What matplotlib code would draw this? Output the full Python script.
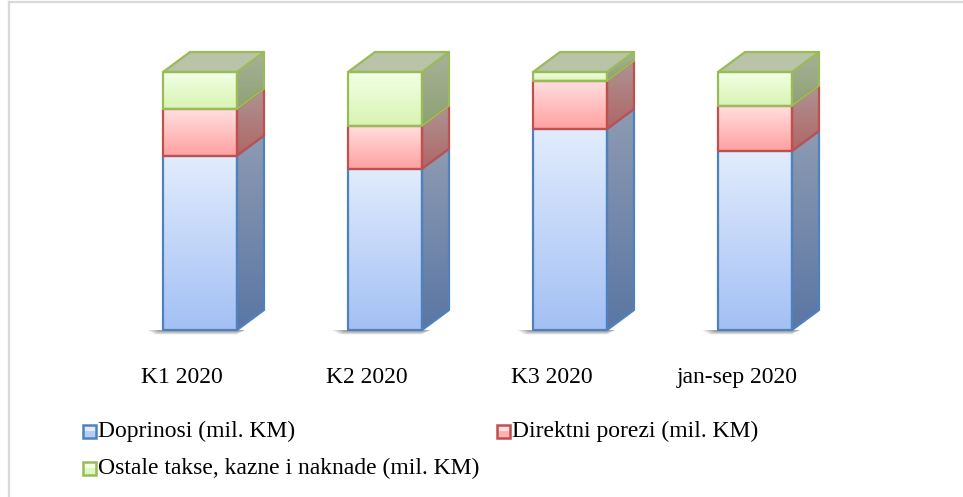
import numpy as np
import matplotlib
matplotlib.use("Agg")
import matplotlib.pyplot as plt
from matplotlib.patches import Polygon, Rectangle
from matplotlib.colors import LinearSegmentedColormap

# ---- data (shares, %) ----
categories = ["K1 2020", "K2 2020", "K3 2020", "jan-sep 2020"]
doprinosi = [67.6, 62.5, 77.9, 69.4]
direktni = [18.2, 16.7, 18.7, 17.6]
ostale = [14.2, 20.8, 3.4, 13.0]
series_names = ["Doprinosi (mil. KM)", "Direktni porezi (mil. KM)",
                "Ostale takse, kazne i naknade (mil. KM)"]

W, H = 963, 497
fig = plt.figure(figsize=(W / 100, H / 100), dpi=100)
plt.rcParams['font.family'] = ['Liberation Serif', 'DejaVu Serif']

# axes covering whole figure; 0% at pixel row 330, 100% at pixel row 72
y0p, y100p = 330, 72
ppu_y = (y0p - y100p) / 100.0
ymin = -(H - y0p) / ppu_y
ymax = y0p / ppu_y
x_left_px, spacing_px = 107.5, 185.0
xmin = -0.5 - x_left_px / spacing_px
xmax = xmin + W / spacing_px
ax = fig.add_axes([0, 0, 1, 1])
ax.set_xlim(xmin, xmax)
ax.set_ylim(ymin, ymax)
ax.axis('off')

def px2dx(p):
    return p * (xmax - xmin) / W
def px2dy(p):
    return p * (ymax - ymin) / H

half_w = px2dx(37)
ddx = px2dx(27)
ddy = px2dy(20)

styles = [
    dict(ft="#e2ecfd", fb="#a3c0f4", st="#8e9bb2", sb="#5a76a4", ec="#4f81bd"),
    dict(ft="#ffe0e0", fb="#ffa0a0", st="#ae9494", sb="#b06666", ec="#c0504d"),
    dict(ft="#f2ffe6", fb="#d8f4b2", st="#a7b198", sb="#8ea274", ec="#9bbb59"),
]
top_face = "#b8c3a7"

def grad_fill(verts, c_top, c_bot, ybot, ytop, zorder):
    poly = Polygon(verts, closed=True, facecolor='none', edgecolor='none')
    ax.add_patch(poly)
    cmap = LinearSegmentedColormap.from_list("g", [c_bot, c_top])
    xs = [v[0] for v in verts]
    grad = np.linspace(0, 1, 256).reshape(-1, 1)
    im = ax.imshow(grad, cmap=cmap, origin='lower', aspect='auto',
                   extent=[min(xs), max(xs), ybot, ytop], zorder=zorder,
                   interpolation='bilinear')
    im.set_clip_path(poly)

values = [doprinosi, direktni, ostale]
for i, cat in enumerate(categories):
    # soft shadow at the foot of the bar
    for k in range(6):
        sx = px2dx(16 - 2 * k)
        hh = px2dy(4.5 - 0.6 * k)
        sh = Polygon([(i - half_w - sx, 0), (i + half_w + ddx * 0.3, 0),
                      (i + half_w, -hh), (i - half_w - sx * 0.5, -hh)],
                     closed=True, facecolor='black', edgecolor='none', alpha=0.07,
                     zorder=1)
        ax.add_patch(sh)
    bottom = 0.0
    for s, vals in enumerate(values):
        v = vals[i]
        top = bottom + v
        st = styles[s]
        xl, xr = i - half_w, i + half_w
        front = [(xl, bottom), (xr, bottom), (xr, top), (xl, top)]
        grad_fill(front, st["ft"], st["fb"], bottom, top, 3)
        side = [(xr, bottom), (xr + ddx, bottom + ddy), (xr + ddx, top + ddy), (xr, top)]
        grad_fill(side, st["st"], st["sb"], bottom, top + ddy, 2)
        ax.add_patch(Polygon(front, closed=True, facecolor='none', edgecolor=st["ec"],
                             lw=1.6, zorder=5, joinstyle='round'))
        ax.add_patch(Polygon(side, closed=True, facecolor='none', edgecolor=st["ec"],
                             lw=1.6, zorder=4, joinstyle='round'))
        if s == len(values) - 1:
            tf = [(xl, top), (xl + ddx, top + ddy), (xr + ddx, top + ddy), (xr, top)]
            ax.add_patch(Polygon(tf, closed=True, facecolor=top_face, edgecolor=st["ec"],
                                 lw=1.6, zorder=4, joinstyle='round'))
        bottom = top
    ax.text(i - px2dx(18), -px2dy(53), cat, ha='center', va='baseline',
            fontsize=17, color='black')

# legend (manual)
def legend_item(xpx, ypx, st, label):
    y_fig = 1 - (ypx + 6.5) / H
    box = Rectangle((xpx / W, y_fig), 13 / W, 13 / H,
                    transform=fig.transFigure, facecolor=st["ft"], edgecolor='none')
    fig.add_artist(box)
    inner = Rectangle((xpx / W, y_fig), 13 / W, 6.5 / H,
                      transform=fig.transFigure, facecolor=st["fb"], edgecolor='none',
                      alpha=0.7)
    fig.add_artist(inner)
    border = Rectangle((xpx / W, y_fig), 13 / W, 13 / H,
                       transform=fig.transFigure, facecolor='none', edgecolor=st["ec"],
                       lw=1.8)
    fig.add_artist(border)
    fig.text((xpx + 14.5) / W, 1 - ypx / H, label, ha='left', va='center',
             fontsize=17, color='black')

legend_item(83, 431, styles[0], series_names[0])
legend_item(497, 431, styles[1], series_names[1])
legend_item(83, 468, styles[2], series_names[2])

# frame (left and top border)
fig.add_artist(plt.Line2D([8.5 / W, 8.5 / W], [0, 1 - 2 / H], transform=fig.transFigure,
                          color="#d9d9d9", lw=1.6))
fig.add_artist(plt.Line2D([8.5 / W, 1], [1 - 2 / H, 1 - 2 / H], transform=fig.transFigure,
                          color="#d9d9d9", lw=1.6))

fig.savefig("out.png", dpi=100)
